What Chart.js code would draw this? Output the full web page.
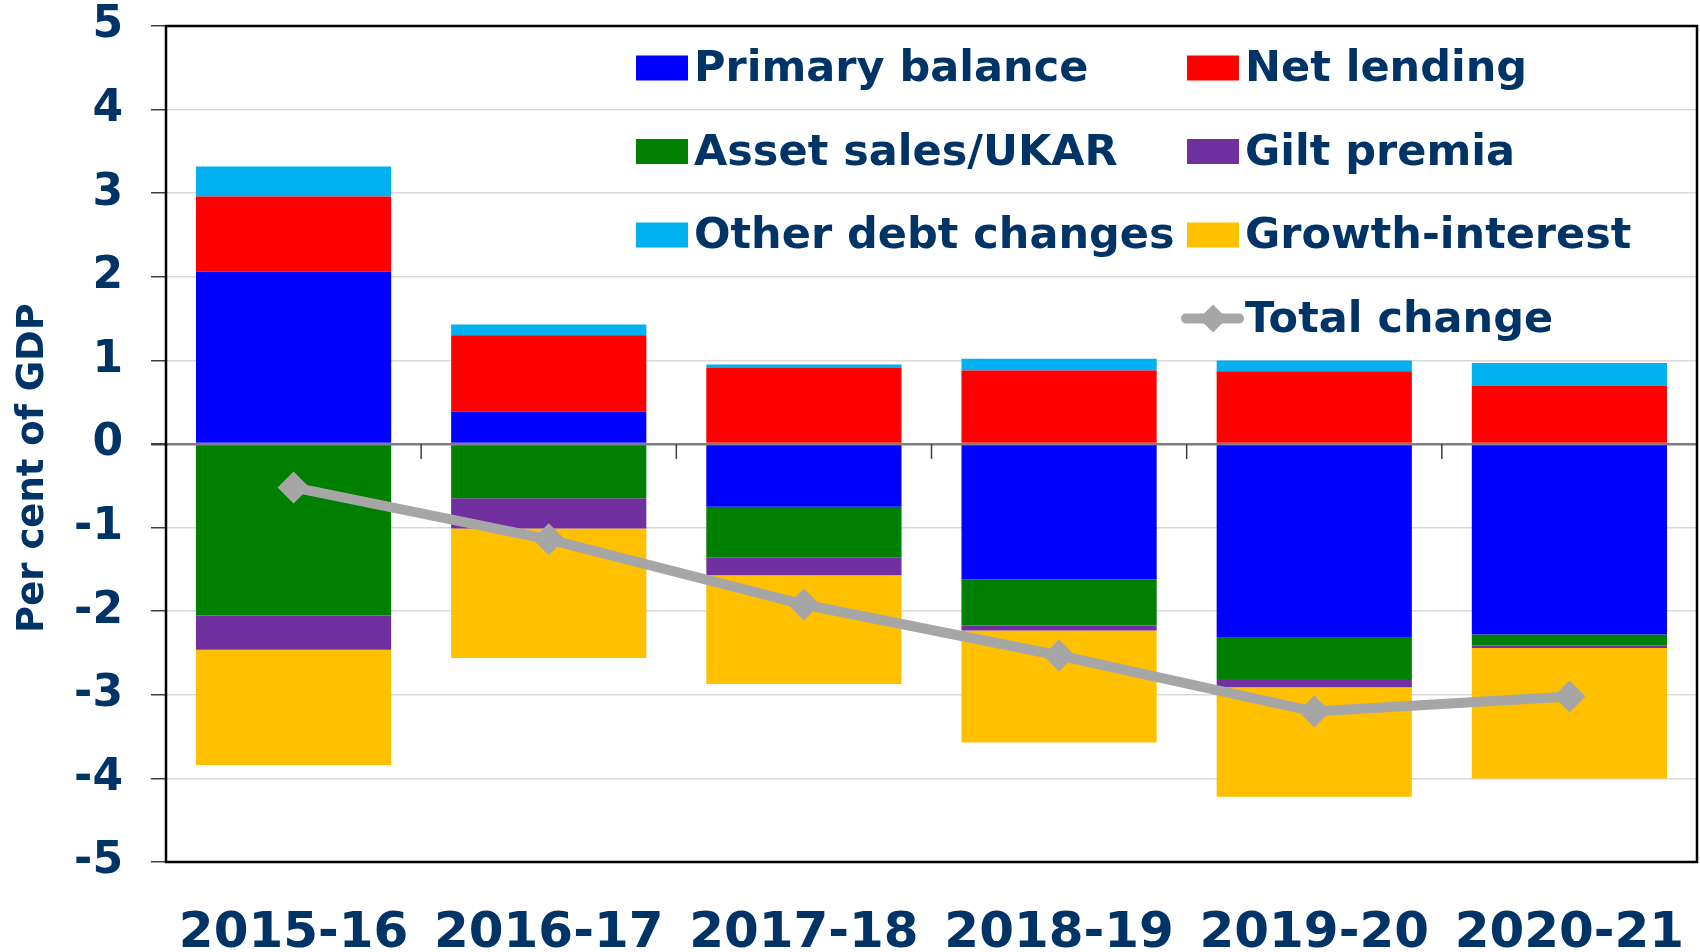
<!DOCTYPE html>
<html>
<head>
<meta charset="utf-8">
<title>Debt changes</title>
<script src="https://cdn.jsdelivr.net/npm/chart.js@4.4.1/dist/chart.umd.min.js"></script>
<style>
  html, body { margin: 0; padding: 0; background: #fff; overflow: hidden; }
  #wrap { width: 1700px; height: 952px; position: relative; }
  #debtChart { display: block; }
</style>
</head>
<body>
<div id="wrap"><canvas id="debtChart"></canvas></div>
<script>
// ── Data ──
const years = ["2015-16", "2016-17", "2017-18", "2018-19", "2019-20", "2020-21"];
const primaryBalance = [2.06, 0.39, -0.75, -1.62, -2.31, -2.28];
const netLending     = [0.90, 0.91, 0.91, 0.88, 0.87, 0.70];
const assetSales     = [-2.05, -0.65, -0.61, -0.55, -0.50, -0.13];
const giltPremia     = [-0.41, -0.36, -0.21, -0.06, -0.10, -0.03];
const otherDebt      = [0.36, 0.13, 0.04, 0.14, 0.13, 0.27];
const growthInterest = [-1.38, -1.55, -1.30, -1.34, -1.31, -1.56];
const totalChange    = [-0.52, -1.14, -1.92, -2.53, -3.20, -3.02];
const yTicks = [5, 4, 3, 2, 1, 0, -1, -2, -3, -4, -5];
const yTitle = "Per cent of GDP";

const NAVY = "#003366";
const FONT = "'DejaVu Sans', sans-serif";

function barSet(label, data, color) {
  return {
    type: "bar",
    label,
    data,
    backgroundColor: color,
    borderWidth: 0,
    stack: "parts",
    order: 1,
    categoryPercentage: 1,
    barPercentage: 0.765,
  };
}

// ── Plot frame, zero-line ticks, legend, axis title ──
const framePlugin = {
  id: "frame",
  afterDatasetsDraw(chart) {
    const { ctx, scales } = chart;
    const y0 = scales.y.getPixelForValue(0);
    ctx.save();
    // category boundary ticks hanging off the zero line
    ctx.strokeStyle = "#404040";
    ctx.lineWidth = 1.5;
    for (let i = 0; i < years.length - 1; i++) {
      const x = (scales.x.getPixelForValue(i) + scales.x.getPixelForValue(i + 1)) / 2;
      ctx.beginPath();
      ctx.moveTo(x, y0);
      ctx.lineTo(x, y0 + 15);
      ctx.stroke();
    }
    ctx.restore();
  },
  afterDraw(chart) {
    const { ctx, chartArea: a } = chart;
    ctx.save();
    ctx.strokeStyle = "#000";
    ctx.lineWidth = 2.5;
    ctx.strokeRect(a.left, a.top, a.right - a.left, a.bottom - a.top);

    // y title (sits a little below the middle of the axis)
    ctx.save();
    ctx.translate(33, (a.top + a.bottom) / 2 + 24);
    ctx.rotate(-Math.PI / 2);
    ctx.font = `bold 37px ${FONT}`;
    ctx.fillStyle = NAVY;
    ctx.textAlign = "center";
    ctx.textBaseline = "middle";
    ctx.fillText(yTitle, 0, 0);
    ctx.restore();

    // legend: two columns filled row by row, line entry in the right column
    const colX = [a.left + 470, a.left + 1021];
    ctx.font = `bold 43px ${FONT}`;
    ctx.textBaseline = "middle";
    ctx.textAlign = "left";
    chart.data.datasets.forEach((ds, i) => {
      const isLine = ds.type === "line";
      const x = colX[isLine ? 1 : i % 2];
      const y = a.top + 42 + Math.floor(i / 2) * 83.5;
      if (isLine) {
        ctx.strokeStyle = ds.borderColor;
        ctx.lineWidth = 10;
        ctx.lineCap = "round";
        ctx.beginPath();
        ctx.moveTo(x - 1, y);
        ctx.lineTo(x + 52, y);
        ctx.stroke();
        ctx.fillStyle = ds.borderColor;
        ctx.beginPath();
        ctx.moveTo(x + 26, y - 14);
        ctx.lineTo(x + 40, y);
        ctx.lineTo(x + 26, y + 14);
        ctx.lineTo(x + 12, y);
        ctx.closePath();
        ctx.fill();
      } else {
        ctx.fillStyle = ds.backgroundColor;
        ctx.fillRect(x, y - 12.5, 52, 25);
      }
      ctx.fillStyle = NAVY;
      ctx.fillText(ds.label, x + 58, y + 2);
    });
    ctx.restore();
  },
};

const ctx = document.getElementById("debtChart").getContext("2d");

const chart = new Chart(ctx, {
  data: {
    labels: years,
    datasets: [
      barSet("Primary balance", primaryBalance, "#0000FF"),
      barSet("Net lending", netLending, "#FF0000"),
      barSet("Asset sales/UKAR", assetSales, "#008000"),
      barSet("Gilt premia", giltPremia, "#7030A0"),
      barSet("Other debt changes", otherDebt, "#00B0F0"),
      barSet("Growth-interest", growthInterest, "#FFC000"),
      {
        type: "line",
        label: "Total change",
        data: totalChange,
        stack: "total",
        order: 0,
        borderColor: "#A6A6A6",
        backgroundColor: "#A6A6A6",
        borderWidth: 10,
        pointStyle: "rectRot",
        pointRadius: 16,
        pointBorderWidth: 0,
        pointBackgroundColor: "#A6A6A6",
        tension: 0,
      },
    ],
  },
  options: {
    responsive: true,
    maintainAspectRatio: false,
    animation: false,
    layout: {
      autoPadding: false,
      padding: { top: 26, right: 3, left: 0, bottom: 0 },
    },
    plugins: {
      legend: { display: false },
      tooltip: { enabled: false },
    },
    scales: {
      x: {
        stacked: true,
        grid: { display: false, drawTicks: false },
        border: { display: false },
        ticks: {
          color: NAVY,
          font: { family: FONT, size: 50, weight: "bold" },
          padding: 42,
          maxRotation: 0,
        },
        afterFit: (s) => {
          s.height = 90;
          s.paddingLeft = 0;
          s.paddingRight = 0;
        },
      },
      y: {
        stacked: true,
        min: -5,
        max: 5,
        afterBuildTicks: (s) => { s.ticks = yTicks.map((v) => ({ value: v })); },
        grid: {
          color: (c) => (c.tick && c.tick.value === 0 ? "#7f7f7f" : "#d9d9d9"),
          lineWidth: (c) => (c.tick && c.tick.value === 0 ? 2.5 : 1.5),
          tickColor: "#404040",
          tickLength: 15,
        },
        border: { display: false },
        ticks: {
          color: NAVY,
          font: { family: FONT, size: 44, weight: "bold" },
          padding: 28,
        },
        afterFit: (s) => {
          s.width = 166;
          s.paddingTop = 0;
          s.paddingBottom = 0;
        },
      },
    },
  },
  plugins: [framePlugin],
});
</script>
</body>
</html>
